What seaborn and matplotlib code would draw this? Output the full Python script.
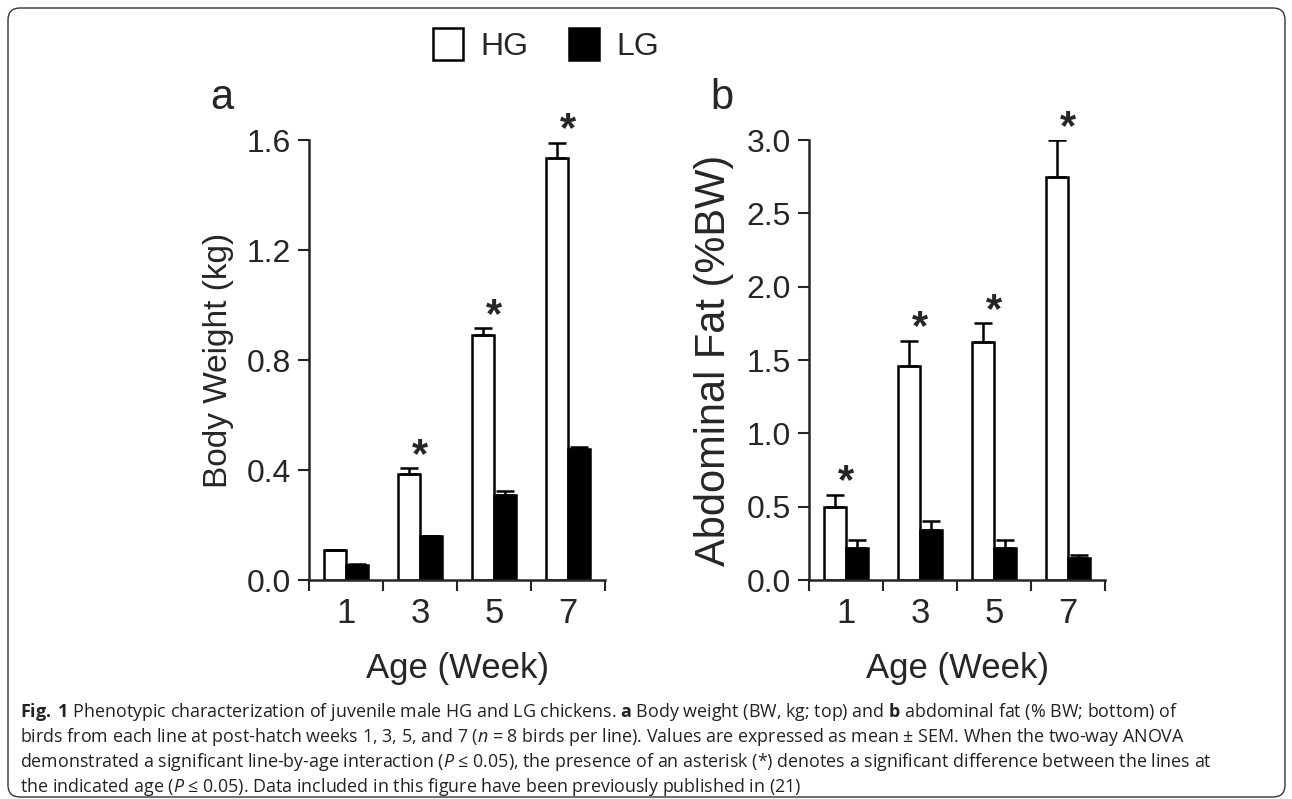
import matplotlib
matplotlib.use("Agg")
import matplotlib.pyplot as plt
import seaborn as sns
import pandas as pd
from matplotlib.patches import FancyBboxPatch
from matplotlib.ticker import FixedLocator

# data (mean and SEM)
ages = ["1", "3", "5", "7"]
bw_hg = [0.11, 0.385, 0.89, 1.535]
bw_hg_sem = [0.0, 0.022, 0.026, 0.055]
bw_lg = [0.055, 0.16, 0.31, 0.475]
bw_lg_sem = [0.004, 0.0, 0.014, 0.008]
bw_sig = [False, True, True, True]

fat_hg = [0.50, 1.46, 1.62, 2.75]
fat_hg_sem = [0.08, 0.17, 0.13, 0.25]
fat_lg = [0.22, 0.34, 0.22, 0.15]
fat_lg_sem = [0.05, 0.06, 0.05, 0.02]
fat_sig = [True, True, True, True]

caption = [
    r"$\mathbf{Fig.\;1}$ Phenotypic characterization of juvenile male HG and LG chickens. "
    r"$\mathbf{a}$ Body weight (BW, kg; top) and $\mathbf{b}$ abdominal fat (% BW; bottom) of",
    r"birds from each line at post-hatch weeks 1, 3, 5, and 7 ($\mathit{n}$ = 8 birds per line). "
    "Values are expressed as mean ± SEM. When the two-way ANOVA",
    r"demonstrated a significant line-by-age interaction ($\mathit{P}$ ≤ 0.05), the presence of an "
    "asterisk (*) denotes a significant difference between the lines at",
    r"the indicated age ($\mathit{P}$ ≤ 0.05). Data included in this figure have been previously published in (21)",
]

sns.set_style("ticks")
plt.rcParams["font.family"] = ["Liberation Sans", "DejaVu Sans"]
plt.rcParams["mathtext.fontset"] = "custom"
plt.rcParams["mathtext.rm"] = "Open Sans"
plt.rcParams["mathtext.bf"] = "Open Sans:bold"
plt.rcParams["mathtext.it"] = "Open Sans:italic"

fig = plt.figure(figsize=(12.92, 7.99), dpi=100)
W, H = 1292, 799


def panel(left_px, hg, hg_sem, lg, lg_sem, sig, ymax, step, ylabel, yl_size, letter):
    ax = fig.add_axes([left_px / W, 1 - 580 / H, 296 / W, 440 / H])
    df = pd.DataFrame({
        "Age": ages * 2,
        "Line": ["HG"] * 4 + ["LG"] * 4,
        "Value": hg + lg,
    })
    sns.barplot(data=df, x="Age", y="Value", hue="Line",
                palette={"HG": "white", "LG": "black"},
                edgecolor="black", linewidth=1.8, width=0.6,
                errorbar=None, ax=ax)
    ax.get_legend().remove()

    # upper-only error bars
    for cont, means, sems in zip(ax.containers, [hg, lg], [hg_sem, lg_sem]):
        xs = [p.get_x() + p.get_width() / 2 for p in cont]
        ax.errorbar(xs, means, yerr=[[0] * 4, sems], fmt="none",
                    ecolor="black", elinewidth=1.8, capsize=6.5, capthick=1.8)

    # asterisks over significant ages
    for i, s in enumerate(sig):
        if s:
            ax.annotate("*", xy=(i, hg[i] + hg_sem[i]), xytext=(0, 1),
                        textcoords="offset points", ha="center", va="baseline",
                        fontsize=30, fontweight="bold")

    ax.set_xlim(-0.5, 3.5)
    ax.set_ylim(0, ymax)
    yt = [round(k * step, 2) for k in range(int(round(ymax / step)) + 1)]
    ax.set_yticks(yt)
    ax.set_yticklabels([f"{v:.1f}" for v in yt], fontsize=23)
    ax.xaxis.set_minor_locator(FixedLocator([-0.5, 0.5, 1.5, 2.5, 3.5]))
    ax.tick_params(axis="x", which="major", length=0, pad=12, labelsize=25)
    ax.tick_params(axis="x", which="minor", length=8, width=1.5, direction="out")
    ax.tick_params(axis="y", length=8, width=1.5, direction="out", pad=5)

    ax.set_xlabel("Age (Week)", fontsize=25, labelpad=16)
    ax.set_ylabel(ylabel, fontsize=yl_size, labelpad=9)

    for side in ["top", "right"]:
        ax.spines[side].set_visible(False)
    for side in ["left", "bottom"]:
        ax.spines[side].set_linewidth(1.8)

    fig.text((left_px - 87) / W, 1 - 98 / H, letter, fontsize=30,
             ha="center", va="center")
    return ax


ax_a = panel(309, bw_hg, bw_hg_sem, bw_lg, bw_lg_sem, bw_sig, 1.6, 0.4,
             "Body Weight (kg)", 24, "a")
ax_b = panel(809, fat_hg, fat_hg_sem, fat_lg, fat_lg_sem, fat_sig, 3.0, 0.5,
             "Abdominal Fat (%BW)", 30, "b")

# shared legend at the top
fig.legend(handles=ax_a.containers, labels=["HG", "LG"], loc="center",
           bbox_to_anchor=(546 / W, 1 - 45 / H), ncol=2, frameon=False,
           prop={"size": 23},
           handlelength=0.95, handleheight=1.15, handletextpad=0.55,
           columnspacing=1.25)

# caption
for k, line in enumerate(caption):
    fig.text(20 / W, 1 - (712 + 25 * k) / H, line, fontsize=12.9,
             family=["Open Sans", "DejaVu Sans"], color="#222222",
             ha="left", va="center")

# rounded border box
box = FancyBboxPatch((0.08, 0.02), 12.77, 7.89,
                     boxstyle="round,pad=0,rounding_size=0.12",
                     transform=fig.dpi_scale_trans, facecolor="none",
                     edgecolor="#333333", linewidth=1.0)
fig.patches.append(box)

fig.savefig("out.png", dpi=100)
